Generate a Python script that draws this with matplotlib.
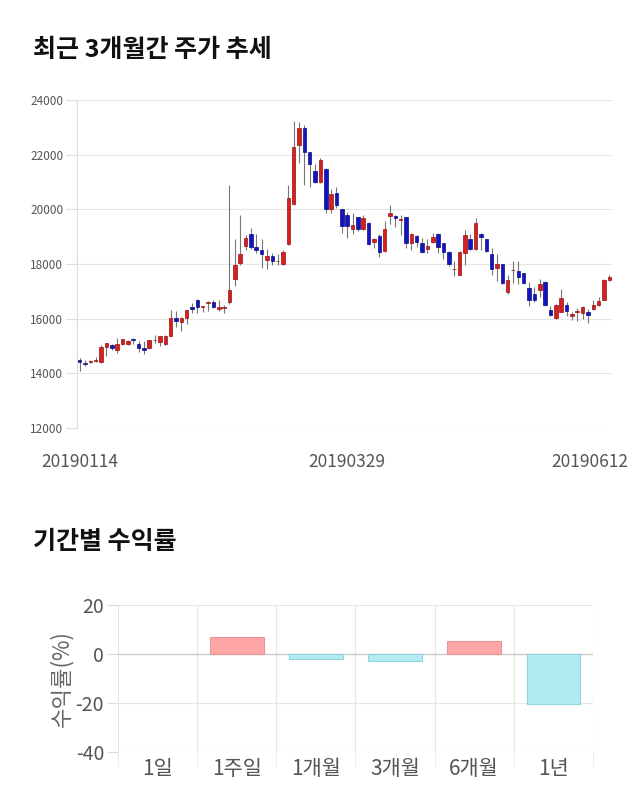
import numpy as np
import matplotlib
matplotlib.use('Agg')
import matplotlib.pyplot as plt
from matplotlib.transforms import ScaledTranslation

plt.rcParams['font.family'] = ['Noto Sans CJK KR', 'DejaVu Sans']
plt.rcParams['axes.unicode_minus'] = False

# 주가 (시가, 종가, 고가, 저가)
opens = [14500, 14390, 14400, 14450, 14420, 14950, 15030, 14850, 15090, 15090,
         15250, 15060, 14910, 14910, 15210, 15150, 15060, 15360, 16010, 15890,
         16030, 16410, 16700, 16410, 16560, 16600, 16340, 16400, 16600, 17440,
         18050, 18660, 19100, 18630, 18510, 18140, 18300, 18100, 18000, 18720,
         20190, 22350, 22960, 22110, 21410, 21010, 21460, 20000, 20610, 20000,
         19810, 19270, 19710, 19270, 19510, 18790, 19020, 18490, 19750, 19750,
         19610, 19710, 18750, 19030, 18750, 18550, 18800, 19100, 18750, 18450,
         17800, 17600, 18390, 18900, 18550, 19100, 18900, 18360, 17840, 18000,
         16960, 17770, 17750, 17660, 17110, 16900, 17050, 17350, 16310, 16030,
         16250, 16500, 16090, 16260, 16190, 16250, 16340, 16500, 16700, 17410]
closes = [14430, 14350, 14440, 14460, 14980, 15100, 14910, 15070, 15240, 15190,
          15220, 14910, 14850, 15220, 15220, 15360, 15360, 16010, 15910, 16010,
          16310, 16350, 16430, 16460, 16600, 16410, 16410, 16410, 17050, 17960,
          18360, 18960, 18610, 18510, 18350, 18300, 18110, 18110, 18450, 20400,
          22290, 22960, 22110, 21660, 21010, 21800, 20000, 20560, 20160, 19400,
          19400, 19430, 19270, 19670, 18720, 18910, 18450, 19270, 19850, 19690,
          19620, 18750, 19100, 18790, 18450, 18660, 19000, 18610, 18450, 18000,
          17810, 18450, 19060, 18550, 19510, 19000, 18490, 17800, 18000, 17290,
          17410, 17780, 17510, 17290, 16680, 16680, 17250, 16500, 16130, 16500,
          16770, 16290, 16160, 16270, 16410, 16140, 16500, 16660, 17410, 17510]
highs = [14560, 14480, 14470, 14600, 15050, 15120, 15080, 15300, 15260, 15220,
         15280, 15200, 15180, 15230, 15390, 15380, 15400, 16300, 16280, 16050,
         16320, 16580, 16720, 16480, 16650, 16700, 16700, 16500, 20900, 18900,
         19810, 19050, 19300, 19100, 18900, 18550, 18400, 18360, 18500, 20900,
         23240, 23200, 23100, 21700, 21650, 21870, 21500, 20760, 20820, 20010,
         19890, 19850, 19720, 19780, 19540, 18950, 19100, 19560, 20170, 19800,
         19800, 19720, 19130, 19060, 18950, 18900, 19120, 19130, 18780, 18460,
         18100, 18480, 19250, 19100, 19670, 19150, 18920, 18600, 18350, 18010,
         17600, 18100, 18100, 17680, 17350, 17150, 17460, 17380, 16450, 16520,
         17100, 16600, 16250, 16400, 16450, 16350, 16700, 16800, 17450, 17580]
lows = [14100, 14250, 14380, 14400, 14380, 14650, 14870, 14750, 15050, 15050,
        15080, 14780, 14700, 14880, 15120, 15000, 15020, 15350, 15700, 15550,
        15820, 16200, 16220, 16250, 16280, 16400, 16280, 16200, 16550, 17190,
        17950, 18530, 18550, 18400, 17860, 17820, 17980, 17950, 17980, 18700,
        20150, 21700, 20900, 20830, 20980, 20970, 19850, 19850, 20050, 19150,
        18950, 19110, 19200, 19250, 18700, 18600, 18250, 18440, 19450, 19370,
        19060, 18600, 18500, 18640, 18400, 18420, 18760, 18400, 18200, 17930,
        17550, 17580, 17950, 18500, 18500, 18500, 18450, 17600, 17390, 17270,
        16920, 17320, 17250, 17250, 16450, 16620, 16800, 16480, 16100, 15980,
        16230, 16080, 15960, 15900, 16000, 15830, 16300, 16480, 16680, 17380]
date_labels = ['20190114', '20190329', '20190612']

# 기간별 수익률
periods = ['1일', '1주일', '1개월', '3개월', '6개월', '1년']
returns = [0.0, 6.8, -2.2, -2.8, 5.5, -20.5]

fig = plt.figure(figsize=(6.4, 8.1), dpi=100)

fig.text(33 / 640, 1 - 50 / 810, '최근 3개월간 주가 추세', fontsize=18,
         fontweight='bold', va='center', ha='left', color='#111111')
fig.text(33 / 640, 1 - 542 / 810, '기간별 수익률', fontsize=18,
         fontweight='bold', va='center', ha='left', color='#111111')

# 캔들 차트
ax = fig.add_axes([77 / 640, 1 - 428 / 810, 535 / 640, 328 / 810])
o = np.array(opens)
c = np.array(closes)
h = np.array(highs)
l = np.array(lows)
x = np.arange(len(o))
up = c >= o
body_lo = np.minimum(o, c)
body_h = np.maximum(np.abs(c - o), 25)

ax.vlines(x, l, h, color='#777777', linewidth=0.8, zorder=2)
ax.bar(x[up], body_h[up], bottom=body_lo[up], width=0.65,
       color='#d42020', edgecolor='#9a1010', linewidth=0.5, zorder=3)
ax.bar(x[~up], body_h[~up], bottom=body_lo[~up], width=0.65,
       color='#1515c0', edgecolor='#0a0a80', linewidth=0.5, zorder=3)

ax.set_xlim(-0.5, len(o) - 0.5)
ax.set_ylim(12000, 24000)
ax.set_yticks(range(12000, 24001, 2000))
ax.tick_params(axis='y', labelsize=8.5, labelcolor='#555555', length=8,
               color='#dddddd', pad=2)
ax.yaxis.grid(True, color='#e6e6e6', linewidth=0.8)
ax.set_axisbelow(True)
ax.set_xticks([0, 50, len(o) - 1])
ax.set_xticklabels(date_labels)
ax.tick_params(axis='x', labelsize=12.5, labelcolor='#555555', length=0, pad=18)
# 마지막 날짜 라벨은 잘리지 않게 왼쪽으로 이동
last = ax.get_xticklabels()[-1]
last.set_transform(last.get_transform() + ScaledTranslation(-0.2, 0, fig.dpi_scale_trans))
for s in ['top', 'right', 'bottom']:
    ax.spines[s].set_visible(False)
ax.spines['left'].set_color('#dddddd')

# 수익률 막대 차트
bx = fig.add_axes([118 / 640, 1 - 752 / 810, 475 / 640, 147 / 810])
xi = np.arange(len(periods))
cols = ['#ffa6a6' if v >= 0 else '#b2ebf2' for v in returns]
edges = ['none' if v == 0 else ('#e89595' if v > 0 else '#92d3dc') for v in returns]
bx.bar(xi, returns, width=0.68, color=cols, edgecolor=edges, linewidth=0.8, zorder=3)
bx.set_xlim(-0.5, len(periods) - 0.5)
bx.set_ylim(-40, 20)
bx.set_yticks([-40, -20, 0, 20])
bx.set_xticks(xi)
bx.set_xticklabels(periods)
bx.set_xticks(np.arange(-0.5, len(periods), 1), minor=True)
bx.xaxis.grid(True, which='minor', color='#e6e6e6', linewidth=0.8)
bx.yaxis.grid(True, color='#e6e6e6', linewidth=0.8)
bx.axhline(0, color='#cccccc', linewidth=1, zorder=2)
bx.set_axisbelow(True)
bx.tick_params(axis='y', labelsize=14, labelcolor='#555555', length=8,
               color='#dddddd', pad=2)
bx.tick_params(axis='x', which='major', labelsize=15, labelcolor='#555555',
               length=0, pad=4)
bx.tick_params(axis='x', which='minor', length=10, color='#e6e6e6')
for s in bx.spines.values():
    s.set_visible(False)
bx.set_ylabel('수익률(%)', fontsize=16, color='#666666', labelpad=2)

fig.savefig('out.png', dpi=100, facecolor='white')
